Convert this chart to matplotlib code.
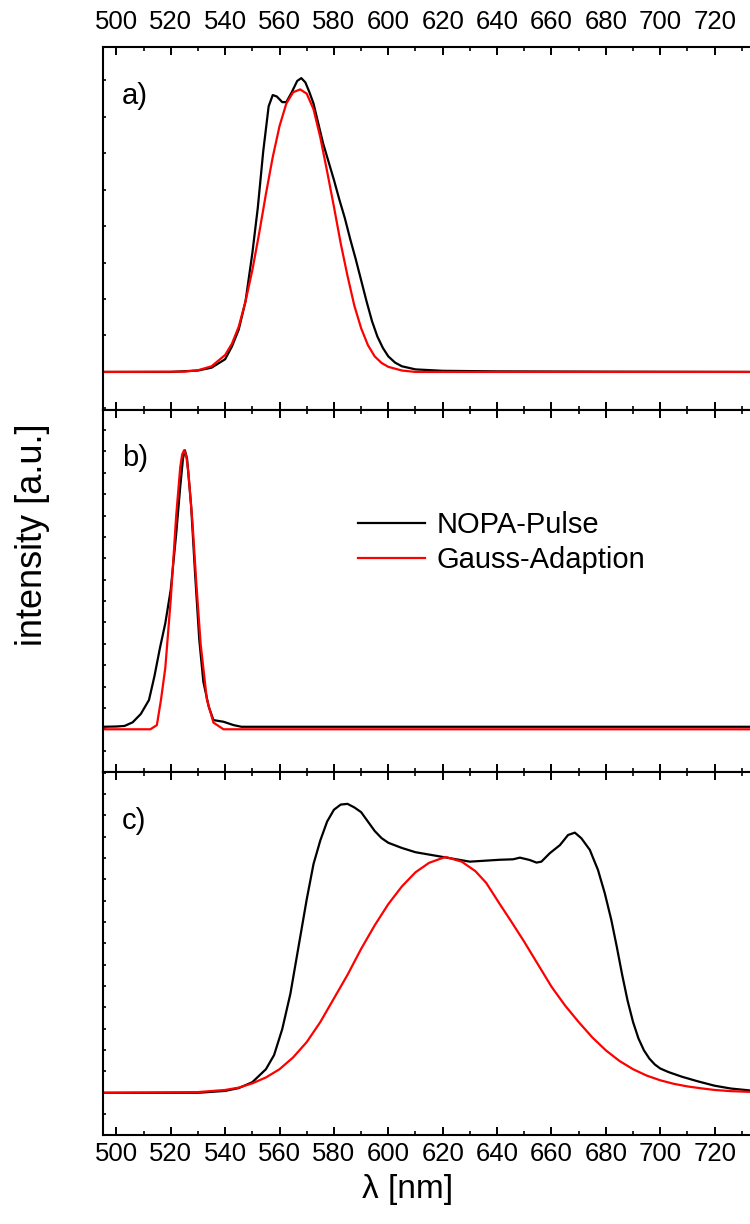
import matplotlib
matplotlib.use("Agg")
import matplotlib.pyplot as plt
from matplotlib.ticker import MultipleLocator, NullFormatter

plt.rcParams['font.family'] = ['Liberation Sans', 'DejaVu Sans']

# panel a) – wavelength [nm] and normalised intensity
wl_a_pulse = [495, 520, 530, 535, 540, 542.5, 545, 547.5, 550, 552, 554, 556, 557.5, 559,
              561, 562.5, 564.5, 566.5, 568, 569.5, 571, 572.5, 574, 576, 578, 580, 582,
              584, 586, 588, 590, 592, 594, 596, 598, 600, 602.5, 605, 610, 620, 640, 680, 733]
int_a_pulse = [0.0, 0.0, 0.005, 0.015, 0.045, 0.09, 0.15, 0.25, 0.42, 0.58, 0.78, 0.94,
               0.98, 0.975, 0.955, 0.955, 0.99, 1.03, 1.04, 1.025, 0.99, 0.95, 0.89, 0.81,
               0.745, 0.68, 0.61, 0.545, 0.47, 0.40, 0.325, 0.25, 0.18, 0.125, 0.085, 0.055,
               0.033, 0.02, 0.009, 0.004, 0.002, 0.001, 0.0]
wl_a_gauss = [495, 525, 530, 535, 540, 542.5, 545, 547.5, 550, 552.5, 555, 557.5, 560, 562.5,
              565, 567.6, 570, 572.5, 575, 577.5, 580, 582.5, 585, 587.5, 590, 592.5, 595,
              597.5, 600, 605, 610, 733]
int_a_gauss = [0.0, 0.001, 0.006, 0.02, 0.06, 0.1, 0.16, 0.25, 0.36, 0.49, 0.63, 0.76, 0.87,
               0.95, 0.99, 1.0, 0.985, 0.93, 0.83, 0.71, 0.585, 0.455, 0.34, 0.235, 0.155,
               0.095, 0.055, 0.032, 0.018, 0.005, 0.0, 0.0]

# panel b)
wl_b_pulse = [495, 500, 503, 506, 509, 512, 514, 516, 518, 520, 522, 523.5, 524.5, 525.2,
              526, 527.5, 529, 530.5, 532, 534, 535.7, 539.4, 543.1, 546, 600, 733]
int_b_pulse = [0.009, 0.01, 0.012, 0.025, 0.055, 0.105, 0.19, 0.29, 0.38, 0.5, 0.7, 0.87,
               0.97, 1.0, 0.97, 0.8, 0.55, 0.32, 0.17, 0.08, 0.033, 0.027, 0.015, 0.009,
               0.009, 0.009]
wl_b_gauss = [495, 512.5, 514.9, 516.4, 518, 520, 522, 523.5, 524.2, 524.9, 525.7, 526.5,
              528, 529.5, 531, 533.3, 535.7, 539.4, 733]
int_b_gauss = [0.0, 0.0, 0.015, 0.105, 0.22, 0.465, 0.765, 0.94, 0.985, 1.0, 0.98, 0.92,
               0.74, 0.51, 0.305, 0.106, 0.024, 0.0, 0.0]

# panel c)
wl_c_pulse = [495, 530, 540, 545, 550, 555, 558, 561, 564, 567, 570, 572.5, 575, 577.5, 580,
              582.5, 585, 587.5, 590, 592.5, 595, 597.5, 600, 605, 610, 620, 630, 641, 645.9,
              648.4, 652, 654.5, 656.3, 659.4, 663.1, 666.1, 668.6, 671.0, 674.1, 675.5,
              677.1, 679.6, 682, 684, 686, 688, 690, 692, 694, 696, 698, 700, 703, 708, 714,
              720, 726, 733]
int_c_pulse = [0.0, 0.0, 0.008, 0.02, 0.045, 0.1, 0.16, 0.27, 0.42, 0.62, 0.82, 0.97, 1.07,
               1.15, 1.2, 1.222, 1.225, 1.21, 1.19, 1.15, 1.11, 1.08, 1.06, 1.038, 1.02, 1.0,
               0.98, 0.988, 0.99, 0.997, 0.987, 0.976, 0.98, 1.016, 1.05, 1.093, 1.103, 1.079,
               1.03, 0.99, 0.945, 0.846, 0.733, 0.62, 0.5, 0.39, 0.3, 0.23, 0.18, 0.145, 0.12,
               0.103, 0.088, 0.068, 0.048, 0.03, 0.018, 0.01]
wl_c_gauss = [495, 530, 540, 545, 550, 555, 560, 565, 570, 575, 580, 585, 590, 595, 600, 605,
              610, 615, 621, 627, 632, 636, 641, 645, 650, 655, 660, 665, 670, 675, 680, 685,
              690, 695, 700, 705, 710, 715, 720, 726, 733]
int_c_gauss = [0.0, 0.003, 0.012, 0.022, 0.04, 0.065, 0.1, 0.15, 0.215, 0.3, 0.4, 0.5, 0.61,
               0.71, 0.8, 0.875, 0.935, 0.975, 1.0, 0.98, 0.94, 0.89, 0.80, 0.73, 0.64, 0.545,
               0.45, 0.37, 0.3, 0.235, 0.18, 0.135, 0.1, 0.073, 0.053, 0.038, 0.027, 0.019,
               0.012, 0.007, 0.004]

panels = [
    ('a)', wl_a_pulse, int_a_pulse, wl_a_gauss, int_a_gauss, (-0.133, 1.151), 0.129),
    ('b)', wl_b_pulse, int_b_pulse, wl_b_gauss, int_b_gauss, (-0.154, 1.146), 0.0766),
    ('c)', wl_c_pulse, int_c_pulse, wl_c_gauss, int_c_gauss, (-0.179, 1.359), 0.0905),
]

fig = plt.figure(figsize=(7.5, 12.24), dpi=100)
gs = fig.add_gridspec(3, 1, left=0.137, right=1.0, bottom=0.0727, top=0.9618, hspace=0)
axes = [fig.add_subplot(gs[i]) for i in range(3)]

for i, (ax, (lab, xp, yp, xg, yg, ylim, ystep)) in enumerate(zip(axes, panels)):
    ax.plot(xp, yp, color='black', lw=1.6, label='NOPA-Pulse')
    ax.plot(xg, yg, color='red', lw=1.6, label='Gauss-Adaption')
    ax.set_xlim(495, 733)
    ax.set_ylim(*ylim)
    ax.xaxis.set_major_locator(MultipleLocator(20))
    ax.xaxis.set_minor_locator(MultipleLocator(10))
    ax.yaxis.set_major_locator(MultipleLocator(ystep))
    ax.yaxis.set_major_formatter(NullFormatter())
    ax.tick_params(axis='x', which='major', direction='in', length=5.6, width=1.4,
                   top=True, bottom=True, labelsize=18.5, labelbottom=(i == 2),
                   labeltop=(i == 0))
    ax.tick_params(axis='x', which='minor', direction='in', length=3.0, width=1.2,
                   top=True, bottom=True)
    ax.tick_params(axis='y', which='major', direction='in', length=2.5, width=1.2,
                   right=False)
    if i == 0:
        ax.tick_params(axis='x', which='major', pad=9)
    if i == 2:
        ax.tick_params(axis='x', which='major', pad=5)
    ax.spines['right'].set_visible(False)
    for s in ('left', 'top', 'bottom'):
        ax.spines[s].set_linewidth(1.5)
    ax.text(0.03, 0.865, lab, transform=ax.transAxes, fontsize=21, va='center', ha='left')

axes[1].legend(loc='upper left', bbox_to_anchor=(0.394, 0.72), frameon=False, fontsize=21,
               handlelength=2.3, handletextpad=0.4, labelspacing=0.25, borderpad=0,
               borderaxespad=0)

fig.text(0.043, 0.563, 'intensity [a.u.]', rotation=90, fontsize=26, ha='center', va='center')
fig.text(0.543, 0.028, 'λ [nm]', fontsize=24, ha='center', va='center')

fig.savefig('out.png', dpi=100)
